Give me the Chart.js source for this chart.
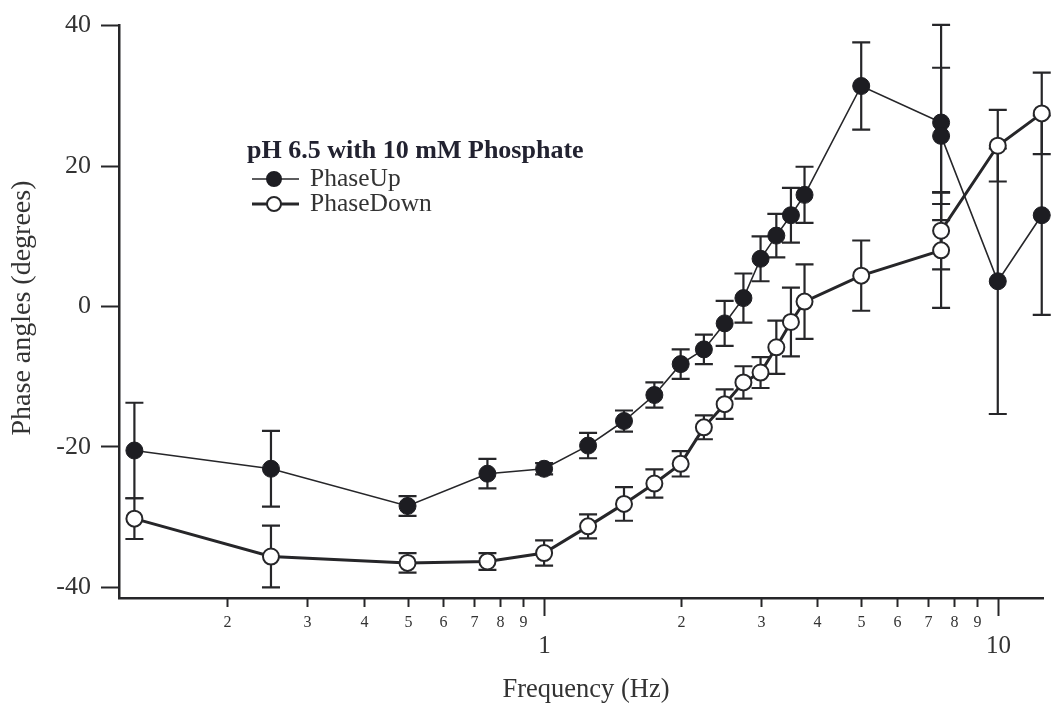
<!DOCTYPE html>
<html>
<head>
<meta charset="utf-8">
<script src="https://cdn.jsdelivr.net/npm/chart.js@4.4.1/dist/chart.umd.min.js"></script>
<style>
  html, body { margin: 0; padding: 0; background: #ffffff; }
  #chart { display: block; }
</style>
</head>
<body>
<canvas id="chart" width="1053" height="706"></canvas>
<script>
// Stimulation frequency (Hz) for each measurement
const freqUp   = [0.125, 0.25, 0.5, 0.75, 1, 1.25, 1.5, 1.75, 2, 2.25, 2.5, 2.75, 3, 3.25, 3.5, 3.75, 5, 7.5, 7.5, 10, 12.5];
const freqDown = [0.125, 0.25, 0.5, 0.75, 1, 1.25, 1.5, 1.75, 2, 2.25, 2.5, 2.75, 3, 3.25, 3.5, 3.75, 5, 7.5, 7.5, 10, 12.5];

// Phase angles (degrees) and their error half-widths
const phaseUp   = [-20.5, -23.1, -28.4, -23.8, -23.1, -19.8, -16.3, -12.6, -8.2, -6.1, -2.4, 1.2, 6.8, 10.1, 13.0, 15.9, 31.4, 26.2, 24.3, 3.6, 13.0];
const errUp     = [6.8, 5.4, 1.4, 2.1, 0.8, 1.8, 1.5, 1.8, 2.1, 2.1, 3.2, 3.5, 3.2, 3.1, 3.9, 4.0, 6.2, 13.9, 9.7, 18.9, 14.2];
const phaseDown = [-30.2, -35.6, -36.5, -36.3, -35.1, -31.3, -28.1, -25.2, -22.4, -17.2, -13.9, -10.8, -9.4, -5.8, -2.2, 0.7, 4.4, 8.0, 10.8, 22.9, 27.5];
const errDown   = [2.9, 4.4, 1.4, 1.2, 1.8, 1.7, 2.4, 2.0, 1.8, 1.7, 2.1, 2.3, 2.2, 3.8, 4.9, 5.3, 5.0, 8.2, 5.5, 5.1, 5.8];

// Axis ticks
const yTicks = [-40, -20, 0, 20, 40];
const xTickValues = [0.2, 0.3, 0.4, 0.5, 0.6, 0.7, 0.8, 0.9, 1, 2, 3, 4, 5, 6, 7, 8, 9, 10];
const xTickLabels = ['2', '3', '4', '5', '6', '7', '8', '9', '1', '2', '3', '4', '5', '6', '7', '8', '9', '10'];
const xMajorTicks = [1, 10];

const seriesNames = ['PhaseUp', 'PhaseDown'];
const legendTitle = 'pH 6.5 with 10 mM Phosphate';
const xTitle = 'Frequency (Hz)';
const yTitle = 'Phase angles (degrees)';

const INK = '#262629';
const TEXT = '#333333';
const SERIF = '"Liberation Serif", "Times New Roman", serif';

function toPoints(xs, ys) {
  return xs.map((x, i) => ({ x: x, y: ys[i] }));
}

// Vertical error bars with caps, drawn beneath lines and markers
const errorBars = {
  id: 'errorBars',
  beforeDatasetsDraw(chart) {
    const { ctx, scales: { x, y } } = chart;
    ctx.save();
    ctx.strokeStyle = INK;
    ctx.lineWidth = 2.2;
    chart.data.datasets.forEach(ds => {
      ds.data.forEach((p, i) => {
        const e = ds.errors[i];
        const px = x.getPixelForValue(p.x);
        const top = y.getPixelForValue(p.y + e);
        const bot = y.getPixelForValue(p.y - e);
        const half = 9;
        ctx.beginPath();
        ctx.moveTo(px, top); ctx.lineTo(px, bot);
        ctx.moveTo(px - half, top); ctx.lineTo(px + half, top);
        ctx.moveTo(px - half, bot); ctx.lineTo(px + half, bot);
        ctx.stroke();
      });
    });
    ctx.restore();
  }
};

// Log-axis ticks and labels, axis titles and the legend box
const decorations = {
  id: 'decorations',
  afterDraw(chart) {
    const { ctx, chartArea, scales: { x } } = chart;
    const base = chartArea.bottom;
    ctx.save();
    ctx.strokeStyle = INK;
    ctx.lineWidth = 2;
    ctx.fillStyle = TEXT;
    ctx.textAlign = 'center';
    ctx.textBaseline = 'middle';
    xTickValues.forEach((v, i) => {
      const px = Math.round(x.getPixelForValue(v)) + 0.5;
      const major = xMajorTicks.includes(v);
      ctx.beginPath();
      ctx.moveTo(px, base);
      ctx.lineTo(px, base + (major ? 18 : 9));
      ctx.stroke();
      if (major) {
        ctx.font = '25px ' + SERIF;
        ctx.fillText(xTickLabels[i], px, base + 48);
      } else {
        ctx.font = '16px ' + SERIF;
        ctx.fillText(xTickLabels[i], px, base + 25);
      }
    });

    // axis titles
    ctx.font = '26.5px ' + SERIF;
    ctx.fillText(xTitle, 586, 690);
    ctx.save();
    ctx.translate(23, 308);
    ctx.rotate(-Math.PI / 2);
    ctx.font = '28px ' + SERIF;
    ctx.fillText(yTitle, 0, 0);
    ctx.restore();

    // legend
    ctx.textAlign = 'left';
    ctx.textBaseline = 'alphabetic';
    ctx.fillStyle = '#222230';
    ctx.font = 'bold 26px ' + SERIF;
    ctx.fillText(legendTitle, 247, 158);
    const rows = [179, 204];
    chart.data.datasets.forEach((ds, i) => {
      const yy = rows[i];
      ctx.strokeStyle = INK;
      ctx.lineWidth = ds.borderWidth;
      ctx.beginPath();
      ctx.moveTo(252, yy); ctx.lineTo(299, yy);
      ctx.stroke();
      ctx.beginPath();
      ctx.arc(274, yy, 7, 0, Math.PI * 2);
      ctx.fillStyle = ds.pointBackgroundColor;
      ctx.fill();
      ctx.lineWidth = 2;
      ctx.strokeStyle = ds.pointBorderColor;
      ctx.stroke();
      ctx.fillStyle = TEXT;
      ctx.font = '25.5px ' + SERIF;
      ctx.textBaseline = 'middle';
      ctx.fillText(seriesNames[i], 310, yy);
    });
    ctx.restore();
  }
};

new Chart(document.getElementById('chart'), {
  type: 'scatter',
  data: {
    datasets: [
      {
        label: seriesNames[0],
        data: toPoints(freqUp, phaseUp),
        errors: errUp,
        showLine: true,
        borderColor: INK,
        borderWidth: 1.6,
        pointRadius: 8.5,
        pointBackgroundColor: '#1d1d22',
        pointBorderColor: '#1d1d22',
        pointBorderWidth: 1,
        clip: false
      },
      {
        label: seriesNames[1],
        data: toPoints(freqDown, phaseDown),
        errors: errDown,
        showLine: true,
        borderColor: INK,
        borderWidth: 3,
        pointRadius: 8,
        pointBackgroundColor: '#ffffff',
        pointBorderColor: INK,
        pointBorderWidth: 2,
        clip: false
      }
    ]
  },
  options: {
    responsive: false,
    animation: false,
    devicePixelRatio: 1,
    layout: { padding: { left: 0, right: 6, top: 22, bottom: 0 } },
    plugins: { legend: { display: false }, tooltip: { enabled: false } },
    scales: {
      x: {
        type: 'logarithmic',
        min: 0.1156,
        max: 12.58,
        grid: { display: false },
        ticks: { display: false },
        border: { display: true, width: 2.5, color: INK },
        afterFit(scale) { scale.height = 108; }
      },
      y: {
        type: 'linear',
        min: -41.5,
        max: 40,
        afterBuildTicks(scale) { scale.ticks = yTicks.map(v => ({ value: v })); },
        ticks: { font: { family: SERIF, size: 26 }, color: TEXT, padding: 10 },
        grid: { display: true, drawOnChartArea: false, drawTicks: true, tickLength: 18, tickWidth: 2, tickColor: INK },
        border: { display: true, width: 2.5, color: INK },
        afterFit(scale) { scale.width = 119; }
      }
    }
  },
  plugins: [errorBars, decorations]
});
</script>
</body>
</html>
